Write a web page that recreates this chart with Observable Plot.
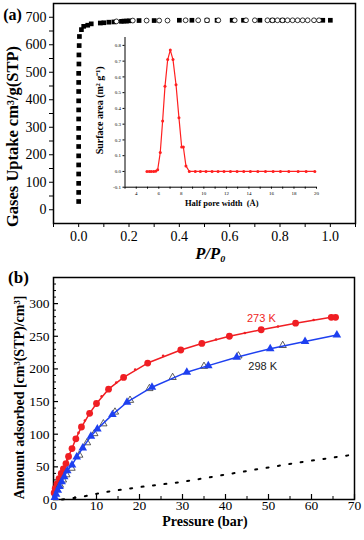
<!DOCTYPE html>
<html>
<head>
<meta charset="utf-8">
<script src="https://cdn.jsdelivr.net/npm/d3@7"></script>
<script src="https://cdn.jsdelivr.net/npm/@observablehq/plot@0.6"></script>
<style>
  html, body { margin: 0; padding: 0; background: #fff; }
  #wrap { position: relative; width: 364px; height: 540px; overflow: hidden; background: #fff; }
  #wrap svg { position: absolute; }
</style>
</head>
<body>
<div id="wrap"></div>
<script>
// ---------- Panel (a): N2 isotherm ----------
const adsColumnP = [0, 0, 0, 0, 0, 0, 0, 0, 0, 0, 0, 0, 0, 0, 0, 0.001, 0.001, 0.002, 0.003];
const adsColumnV = [30, 63, 96, 130, 163, 196, 230, 263, 296, 330, 363, 396, 430, 463, 496, 530, 563, 597, 630];
const adsTopP = [0.011, 0.02, 0.036, 0.05, 0.086, 0.10, 0.12, 0.14, 0.17, 0.18, 0.19, 0.20, 0.24, 0.30, 0.40, 0.45, 0.51, 0.55, 0.61, 0.655, 0.72, 0.77, 0.81, 0.97, 1.0];
const adsTopV = [655, 667, 671, 676, 679, 680, 682, 683, 685, 686, 686, 687, 688, 688, 689, 689, 689, 689, 689, 689, 689, 689, 689, 689, 689];
const desP = [0.15, 0.215, 0.27, 0.32, 0.353, 0.425, 0.475, 0.51, 0.555, 0.62, 0.665, 0.70, 0.75, 0.77, 0.79, 0.81, 0.83, 0.85, 0.87, 0.89, 0.91, 0.935, 0.955];
const desV = [685, 688, 688, 688, 688, 689, 689, 689, 689, 689, 689, 689, 689, 689, 689, 689, 689, 689, 689, 689, 689, 689, 689];

// ---------- Inset: pore size distribution ----------
const poreW = [4.95, 5.16, 5.33, 5.54, 5.72, 5.9, 6.13, 6.34, 6.55, 6.79, 7.02, 7.26, 7.53, 7.79, 8.03, 8.18, 8.41, 8.71, 9.24, 9.69, 10.19, 10.73, 11.26, 11.79, 12.36, 12.95, 13.54, 14.13, 14.79, 15.47, 16.15, 16.8, 17.54, 18.37, 19.08, 19.85];
const poreA = [0, 0, 0, 0, 0.002, 0.01, 0.12, 0.32, 0.54, 0.71, 0.77, 0.71, 0.55, 0.34, 0.155, 0.155, 0.035, 0, 0, 0, 0, 0, 0, 0, 0, 0, 0, 0, 0, 0, 0, 0, 0, 0, 0, 0];

// ---------- Panel (b): high-pressure isotherms ----------
const p273 = [0.15, 0.4, 0.8, 1.3, 1.8, 2.3, 2.9, 3.5, 4.3, 5.2, 6.5, 8.4, 10.0, 12.8, 16.3, 21.9, 29.6, 34.5, 40.9, 48.3, 56.3, 64.6, 65.6];
const v273 = [10, 17, 24, 32, 40, 47, 55, 66, 78, 93, 111, 132, 147, 169, 187, 209, 229, 239, 250, 260, 270, 279, 279];
const p273d = [1.0, 2.0, 3.2, 5.8, 7.3, 11.2, 14.6, 19.0, 25.5, 37.8, 44.5, 52.2, 60.5];
const v273d = [28, 44, 61, 102, 121, 158, 179, 199, 220, 245, 255, 265, 275];
const p298 = [0.3, 0.6, 1.0, 1.4, 1.9, 2.5, 3.2, 4.3, 5.4, 6.8, 8.7, 10.2, 13.7, 17.1, 22.9, 31.0, 36.0, 42.6, 50.4, 58.5, 65.9];
const v298 = [3, 8, 14, 20, 27, 35, 44, 53, 65, 79, 97, 108, 130, 149, 172, 195, 205, 218, 231, 242, 252];
const p298d = [1.5, 2.2, 3.0, 4.2, 6.0, 7.8, 9.5, 11.6, 14.3, 17.8, 22.3, 27.7, 35.0, 43.0, 53.3];
const v298d = [22, 30, 38, 48, 68, 87, 101, 116, 134, 152, 170, 187, 204, 220, 236];
const pGas = [2, 6.6, 11.6, 20, 30, 39, 48, 57.4, 70];
const vGas = [0, 4, 11, 19, 27, 37, 47, 57, 69];

// tick values / labels
const xTicksA = [-0.1, 0, 0.1, 0.2, 0.3, 0.4, 0.5, 0.6, 0.7, 0.8, 0.9, 1.0, 1.1];
const yTicksA = [0, 50, 100, 150, 200, 250, 300, 350, 400, 450, 500, 550, 600, 650, 700];
const xMinorIn = [3, 4, 5, 6, 7, 8, 9, 10, 11, 12, 13, 14, 15, 16, 17, 18, 19, 20];
const yTicksIn = [-0.1, 0, 0.1, 0.2, 0.3, 0.4, 0.5, 0.6, 0.7, 0.8];
const xTicksB = [0, 10, 20, 30, 40, 50, 60, 70];
const xMinorB = [5, 15, 25, 35, 45, 55, 65];
const yTicksB = [0, 50, 100, 150, 200, 250, 300];
const yMinorB = d3.range(10, 340, 10).filter(v => v % 50 !== 0);

const labels273 = [{p: 45, v: 278, t: "273 K"}];
const labels298 = [{p: 45.3, v: 203, t: "298 K"}];

const zip = (a, b) => a.map((x, i) => ({x, y: b[i]}));
const RED = "#f01e23", BLUE = "#1e40f0";
const wrap = document.getElementById("wrap");

// ---- Panel (a)
const plotA = Plot.plot({
  width: 364, height: 262,
  marginLeft: 53, marginRight: 9, marginTop: 3, marginBottom: 39,
  style: {fontFamily: "Liberation Serif", fontSize: "14px", background: "transparent", color: "black"},
  x: {domain: [-0.1, 1.1]},
  y: {domain: [-50, 750]},
  marks: [
    Plot.frame({stroke: "black", strokeWidth: 1.5}),
    Plot.axisX({ticks: xTicksA, tickSize: 4, tickPadding: 4, label: null,
      tickFormat: d => { const k = Math.round(d * 10); return (k >= 0 && k <= 10 && k % 2 === 0) ? (k / 10).toFixed(1) : ""; }}),
    Plot.axisY({ticks: yTicksA, tickSize: 4, tickPadding: 3, label: null,
      tickFormat: d => d % 100 === 0 ? String(d) : ""}),
    Plot.dot(zip(adsColumnP, adsColumnV), {x: "x", y: "y", symbol: "square", r: 2.65, fill: "black"}),
    Plot.dot(zip(adsTopP, adsTopV), {x: "x", y: "y", symbol: "square", r: 2.65, fill: "black"}),
    Plot.dot(zip(desP, desV), {x: "x", y: "y", r: 2.4, fill: "white", stroke: "black", strokeWidth: 0.8}),
    Plot.text(["(a)"], {text: d => d, frameAnchor: "top-left", dx: -41, dy: 11, fontWeight: "bold", fontSize: 16, textAnchor: "middle", lineAnchor: "middle"}),
    Plot.text(["Gases Uptake cm³/g(STP)"], {text: d => d, frameAnchor: "left", rotate: -90, dx: -41, dy: 23, fontWeight: "bold", fontSize: 16.5, textAnchor: "middle", lineAnchor: "middle"}),
    Plot.text(["P/P₀"], {text: d => d, frameAnchor: "bottom", dx: 6, dy: 30, fontWeight: "bold", fontStyle: "italic", fontSize: 16.5, textAnchor: "middle", lineAnchor: "middle"})
  ]
});
plotA.style.left = "0px"; plotA.style.top = "0px";
wrap.appendChild(plotA);

// ---- Inset
const inset = Plot.plot({
  width: 240, height: 185,
  marginLeft: 39.5, marginRight: 9, marginTop: 7, marginBottom: 28.3,
  style: {fontFamily: "Liberation Serif", fontSize: "5px", background: "transparent", color: "black"},
  x: {domain: [3, 20]},
  y: {domain: [-0.1, 0.85]},
  marks: [
    Plot.axisX({ticks: xMinorIn, tickSize: 2, tickPadding: 2, label: null, tickFormat: d => d % 2 === 0 && d >= 4 ? String(d) : ""}),
    Plot.axisY({ticks: yTicksIn, tickSize: 2, tickPadding: 2, label: null, tickFormat: d => d.toFixed(1)}),
    Plot.ruleX([3], {stroke: "black", strokeWidth: 1}),
    Plot.ruleY([-0.1], {stroke: "black", strokeWidth: 1}),
    Plot.line(zip(poreW, poreA), {x: "x", y: "y", stroke: "#ff2020", strokeWidth: 1.2}),
    Plot.dot(zip(poreW, poreA), {x: "x", y: "y", r: 1.5, fill: "#ff2020"}),
    Plot.text(["Surface area (m² g⁻¹)"], {text: d => d, frameAnchor: "left", rotate: -90, dx: -25, dy: -2, fontWeight: "bold", fontSize: 10, textAnchor: "middle", lineAnchor: "middle"}),
    Plot.text(["Half pore width  (Å)"], {text: d => d, frameAnchor: "bottom", dx: 1, dy: 16.3, fontWeight: "bold", fontSize: 8.5, textAnchor: "middle", lineAnchor: "middle"})
  ]
});
inset.style.left = "85px"; inset.style.top = "30px";
wrap.appendChild(inset);

// ---- Panel (b)
const plotB = Plot.plot({
  width: 364, height: 278,
  marginLeft: 53, marginRight: 10, marginTop: 15, marginBottom: 41,
  style: {fontFamily: "Liberation Serif", fontSize: "13.5px", background: "transparent", color: "black"},
  x: {domain: [0, 70]},
  y: {domain: [0, 340]},
  marks: [
    Plot.frame({stroke: "black", strokeWidth: 1.5}),
    Plot.axisX({ticks: xTicksB, tickSize: 0, tickPadding: 1, label: null}),
    Plot.axisY({ticks: yTicksB, tickSize: 0, tickPadding: 4, label: null}),
    Plot.tickX(xTicksB, {x: d => d, insetTop: 222 - 5, stroke: "black", strokeWidth: 1.2}),
    Plot.tickX(xMinorB, {x: d => d, insetTop: 222 - 3, stroke: "black", strokeWidth: 1}),
    Plot.tickY(yTicksB, {y: d => d, insetRight: 301 - 5, stroke: "black", strokeWidth: 1.2}),
    Plot.tickY(yMinorB, {y: d => d, insetRight: 301 - 3, stroke: "black", strokeWidth: 1}),
    Plot.line(zip(pGas, vGas), {x: "x", y: "y", stroke: "black", strokeWidth: 2, strokeDasharray: "2,9.5"}),
    Plot.line(zip(p273, v273), {x: "x", y: "y", stroke: RED, strokeWidth: 1.5}),
    Plot.dot(zip(p273d, v273d), {x: "x", y: "y", r: 1.3, fill: RED}),
    Plot.dot(zip(p273, v273), {x: "x", y: "y", r: 3.4, fill: RED}),
    Plot.dot(zip(p298d, v298d), {x: "x", y: "y", symbol: "triangle", r: 2.7, fill: "white", stroke: "#333", strokeWidth: 0.8}),
    Plot.line(zip(p298, v298), {x: "x", y: "y", stroke: BLUE, strokeWidth: 1.5}),
    Plot.dot(zip(p298, v298), {x: "x", y: "y", symbol: "triangle", r: 3.2, fill: BLUE}),
    Plot.text(labels273, {x: "p", y: "v", text: "t", fill: RED, fontFamily: "Liberation Sans", fontSize: 11, textAnchor: "start", lineAnchor: "middle"}),
    Plot.text(labels298, {x: "p", y: "v", text: "t", fill: "#222", fontFamily: "Liberation Sans", fontSize: 11, textAnchor: "start", lineAnchor: "middle"}),
    Plot.text(["(b)"], {text: d => d, frameAnchor: "top-left", dx: -35, dy: 0.5, fontWeight: "bold", fontSize: 17, textAnchor: "middle", lineAnchor: "middle"}),
    Plot.text(["Amount adsorbed [cm³(STP)/cm³]"], {text: d => d, frameAnchor: "left", rotate: -90, dx: -34, dy: 9, fontWeight: "bold", fontSize: 14, textAnchor: "middle", lineAnchor: "middle"}),
    Plot.text(["Pressure (bar)"], {text: d => d, frameAnchor: "bottom", dx: 1, dy: 22.5, fontWeight: "bold", fontSize: 14, textAnchor: "middle", lineAnchor: "middle"})
  ]
});
plotB.style.left = "0px"; plotB.style.top = "262px";
wrap.appendChild(plotB);
</script>
</body>
</html>
